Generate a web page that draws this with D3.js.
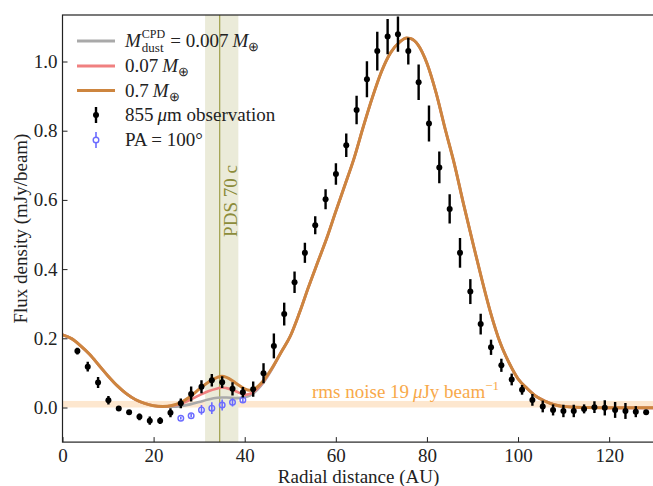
<!DOCTYPE html>
<html><head><meta charset="utf-8">
<script src="https://cdn.jsdelivr.net/npm/d3@7"></script>
<style>html,body{margin:0;padding:0;background:#fff;} svg{display:block;}</style>
</head><body>
<svg id="chart" width="653" height="486"></svg>
<script>
// ---------------- data ----------------
const rObs = [3.27,5.54,7.81,10.08,12.35,14.62,16.89,19.16,21.43,23.70,25.97,28.24,30.51,32.78,35.05,37.32,39.59,41.86,44.13,46.40,48.67,50.94,53.21,55.48,57.75,60.02,62.29,64.56,66.83,69.10,71.37,73.64,75.91,78.18,80.45,82.72,84.99,87.26,89.53,91.80,94.07,96.34,98.61,100.88,103.15,105.42,107.69,109.96,112.23,114.50,116.77,119.04,121.31,123.58,125.85,128.12];
const fluxObs = [0.163,0.118,0.072,0.021,-0.003,-0.014,-0.027,-0.038,-0.038,-0.015,0.012,0.039,0.060,0.079,0.073,0.054,0.044,0.053,0.099,0.178,0.270,0.362,0.447,0.527,0.602,0.675,0.758,0.860,0.949,1.030,1.072,1.079,1.030,0.940,0.821,0.694,0.574,0.447,0.335,0.241,0.174,0.122,0.081,0.051,0.022,0.003,-0.007,-0.010,-0.010,-0.004,0.001,-0.001,-0.007,-0.010,-0.012,-0.014];
const errObs = [0.010,0.014,0.016,0.012,0.006,0.006,0.010,0.012,0.010,0.013,0.014,0.022,0.019,0.018,0.017,0.019,0.015,0.022,0.029,0.036,0.033,0.031,0.029,0.026,0.029,0.031,0.034,0.041,0.052,0.056,0.051,0.051,0.039,0.051,0.052,0.046,0.042,0.043,0.036,0.030,0.022,0.019,0.017,0.014,0.017,0.017,0.016,0.018,0.018,0.013,0.017,0.022,0.023,0.023,0.016,0.007];

const rPA = [25.97,28.24,30.51,32.78,35.05,37.32,39.59];
const fluxPA = [-0.031,-0.024,-0.007,-0.002,0.007,0.015,0.022];
const errPA = [0.004,0.005,0.014,0.017,0.016,0.012,0.008];

const rModel = [0,2,4,6,8,10,12,14,16,18,20,22,24,26,28,30,32,34,35,36,38,40,41,42,44,46,48,50,52,54,56,58,60,62,64,66,68,70,72,74,75.5,76.5,78,80,82,84,86,88,90,92,94,96,98,100,102,104,106,108,110,115,120,125,130];
const model07 = [0.210,0.199,0.178,0.153,0.122,0.091,0.063,0.040,0.023,0.012,0.005,0.003,0.006,0.015,0.031,0.053,0.073,0.087,0.090,0.087,0.071,0.054,0.050,0.053,0.076,0.114,0.160,0.206,0.273,0.348,0.419,0.489,0.567,0.643,0.720,0.810,0.895,0.970,1.025,1.056,1.068,1.066,1.049,0.995,0.910,0.805,0.705,0.590,0.480,0.373,0.273,0.190,0.130,0.083,0.055,0.032,0.018,0.008,0.003,0.000,-0.001,-0.001,-0.001];
const model007 = [0.210,0.199,0.178,0.153,0.122,0.091,0.063,0.040,0.023,0.012,0.005,0.003,0.005,0.011,0.022,0.035,0.047,0.055,0.058,0.056,0.047,0.037,0.039,0.046,0.073,0.113,0.160,0.206,0.273,0.348,0.419,0.489,0.567,0.643,0.720,0.810,0.895,0.970,1.025,1.056,1.068,1.066,1.049,0.995,0.910,0.805,0.705,0.590,0.480,0.373,0.273,0.190,0.130,0.083,0.055,0.032,0.018,0.008,0.003,0.000,-0.001,-0.001,-0.001];
const model0007 = [0.210,0.199,0.178,0.153,0.122,0.091,0.063,0.040,0.023,0.012,0.005,0.002,0.002,0.004,0.009,0.016,0.023,0.028,0.029,0.029,0.027,0.030,0.034,0.042,0.070,0.111,0.160,0.206,0.273,0.348,0.419,0.489,0.567,0.643,0.720,0.810,0.895,0.970,1.025,1.056,1.068,1.066,1.049,0.995,0.910,0.805,0.705,0.590,0.480,0.373,0.273,0.190,0.130,0.083,0.055,0.032,0.018,0.008,0.003,0.000,-0.001,-0.001,-0.001];

const xTicks = [0,20,40,60,80,100,120];
const yTicks = [0.0,0.2,0.4,0.6,0.8,1.0];
const planetBand = [31.3, 38.6];
const planetR = [34.5];
const rmsNoise = [0.019];

// ---------------- layout ----------------
const FONT = "'Liberation Serif','Times New Roman',serif";
const FS = 19;
const svg = d3.select("#chart").style("font-family", FONT);
const pL = 62.5, pR = 654.7, pT = 15, pB = 442.1;
const x = d3.scaleLinear().domain([0,130]).range([pL,pR]);
const y = d3.scaleLinear().domain([-0.1,1.1344]).range([pB,pT]);

svg.append("defs").append("clipPath").attr("id","clip")
  .append("rect").attr("x",pL).attr("y",pT).attr("width",pR-pL).attr("height",pB-pT);
const plot = svg.append("g").attr("clip-path","url(#clip)");

// rms noise band
plot.append("rect").attr("x",pL).attr("width",pR-pL)
  .attr("y",y(rmsNoise[0])).attr("height",y(0)-y(rmsNoise[0]))
  .attr("fill","#fde7cf");
// planet band
plot.append("rect").attr("x",x(planetBand[0])).attr("width",x(planetBand[1])-x(planetBand[0]))
  .attr("y",pT).attr("height",pB-pT).attr("fill","#ebebd9");
plot.append("line").attr("x1",x(planetR[0])).attr("x2",x(planetR[0]))
  .attr("y1",pT).attr("y2",pB).attr("stroke","#a6a655").attr("stroke-width",1.3);

// model curves
const line = d3.line().x(d=>x(d[0])).y(d=>y(d[1])).curve(d3.curveMonotoneX);
const series = [
  {v: model0007, c:"#a9a9a9", w:2.6},
  {v: model007, c:"#f08080", w:2.6},
  {v: model07, c:"#cd853f", w:3}
];
series.forEach(s=>{
  plot.append("path").datum(rModel.map((r,i)=>[r,s.v[i]]))
    .attr("d",line).attr("fill","none").attr("stroke",s.c).attr("stroke-width",s.w)
    .attr("stroke-linejoin","round");
});

// PA=100 points (blue)
const blue = "#6b6bff";
rPA.forEach((r,i)=>{
  plot.append("line").attr("x1",x(r)).attr("x2",x(r))
    .attr("y1",y(fluxPA[i]-errPA[i])).attr("y2",y(fluxPA[i]+errPA[i]))
    .attr("stroke",blue).attr("stroke-width",1.6);
  plot.append("circle").attr("cx",x(r)).attr("cy",y(fluxPA[i])).attr("r",2.8)
    .attr("fill","none").attr("stroke",blue).attr("stroke-width",1.4);
});

// observations (black)
rObs.forEach((r,i)=>{
  plot.append("line").attr("x1",x(r)).attr("x2",x(r))
    .attr("y1",y(fluxObs[i]-errObs[i])).attr("y2",y(fluxObs[i]+errObs[i]))
    .attr("stroke","#000").attr("stroke-width",2.4);
  plot.append("circle").attr("cx",x(r)).attr("cy",y(fluxObs[i])).attr("r",3)
    .attr("fill","#000");
});

// texts in plot
svg.append("text").attr("x",312).attr("y",398).attr("font-size",FS).attr("fill","#f8a94a")
  .call(t=>{
    t.append("tspan").text("rms noise 19\u2009");
    t.append("tspan").attr("font-style","italic").text("\u03bc");
    t.append("tspan").text("Jy beam");
    t.append("tspan").attr("font-size",13).attr("dy",-8).text("\u22121");
  });
svg.append("text").attr("transform",`translate(${x(planetR[0])+17},201) rotate(-90)`)
  .attr("text-anchor","middle").attr("font-size",FS).attr("fill","#8c8c3a").text("PDS 70 c");

// axes
const ax = svg.append("g").attr("transform",`translate(0,${pB})`)
  .call(d3.axisBottom(x).tickValues(xTicks).tickSizeInner(-5).tickSizeOuter(0).tickPadding(6).tickFormat(d3.format("d")));
const ay = svg.append("g").attr("transform",`translate(${pL},0)`)
  .call(d3.axisLeft(y).tickValues(yTicks).tickSizeInner(-5).tickSizeOuter(0).tickPadding(5).tickFormat(d3.format(".1f")));
[ax,ay].forEach(a=>{
  a.selectAll("text").attr("font-size",FS).attr("font-family",FONT).attr("fill","#222");
  a.selectAll("line").attr("stroke","#222").attr("stroke-width",1);
  a.select(".domain").remove();
});
ax.selectAll("text").attr("dy","0.71em");
// frame
svg.append("rect").attr("x",pL).attr("y",pT).attr("width",pR-pL).attr("height",pB-pT)
  .attr("fill","none").attr("stroke","#222").attr("stroke-width",1.2);

svg.append("text").attr("x",(pL+pR)/2).attr("y",483).attr("text-anchor","middle")
  .attr("font-size",FS).attr("fill","#222").text("Radial distance (AU)");
svg.append("text").attr("transform",`translate(27,${(pT+pB)/2}) rotate(-90)`).attr("text-anchor","middle")
  .attr("font-size",FS).attr("fill","#222").text("Flux density (mJy/beam)");

// legend
const lg = svg.append("g");
const lx0 = 77, lx1 = 115, tx = 125;
const legY = [41, 66, 90.5, 115, 140];
[["#a9a9a9",2.8],["#f08080",2.8],["#cd853f",3]].forEach((c,i)=>{
  lg.append("line").attr("x1",lx0).attr("x2",lx1).attr("y1",legY[i]).attr("y2",legY[i])
    .attr("stroke",c[0]).attr("stroke-width",c[1]);
});
const mx = (lx0+lx1)/2;
lg.append("line").attr("x1",mx).attr("x2",mx).attr("y1",legY[3]-8).attr("y2",legY[3]+8).attr("stroke","#000").attr("stroke-width",2.4);
lg.append("circle").attr("cx",mx).attr("cy",legY[3]).attr("r",3).attr("fill","#000");
lg.append("line").attr("x1",mx).attr("x2",mx).attr("y1",legY[4]-8).attr("y2",legY[4]+8).attr("stroke",blue).attr("stroke-width",1.6);
lg.append("circle").attr("cx",mx).attr("cy",legY[4]).attr("r",2.8).attr("fill","#fff").attr("stroke",blue).attr("stroke-width",1.4);

function piece(txt, px, py, opts={}) {
  const t = lg.append("text").attr("x",px).attr("y",py).attr("font-size",opts.size||FS)
    .attr("fill","#222").attr("font-style",opts.italic?"italic":"normal").text(txt);
  return t.node().getComputedTextLength();
}
function massLabel(prefix, px, py) {
  let cx = px;
  cx += piece(prefix, cx, py) + 4;
  cx += piece("M", cx, py, {italic:true});
  piece("\u2295", cx, py+4, {size:13});
}
// entry 1
(function(){
  const by = legY[0]+6;
  let cx = tx;
  cx += piece("M", cx, by, {italic:true}) + 1;
  const w1 = piece("CPD", cx, by-9, {size:12});
  const w2 = piece("dust", cx, by+5, {size:13});
  cx += Math.max(w1,w2) + 5;
  cx += piece("= 0.007", cx, by) + 4;
  cx += piece("M", cx, by, {italic:true});
  piece("\u2295", cx, by+4, {size:13});
})();
massLabel("0.07", tx, legY[1]+6);
massLabel("0.7", tx, legY[2]+6);
(function(){
  const by = legY[3]+6;
  let cx = tx;
  cx += piece("855", cx, by) + 4;
  cx += piece("\u03bc", cx, by, {italic:true});
  piece("m observation", cx, by);
})();
piece("PA = 100\u00b0", tx, legY[4]+6);
</script>
</body></html>
